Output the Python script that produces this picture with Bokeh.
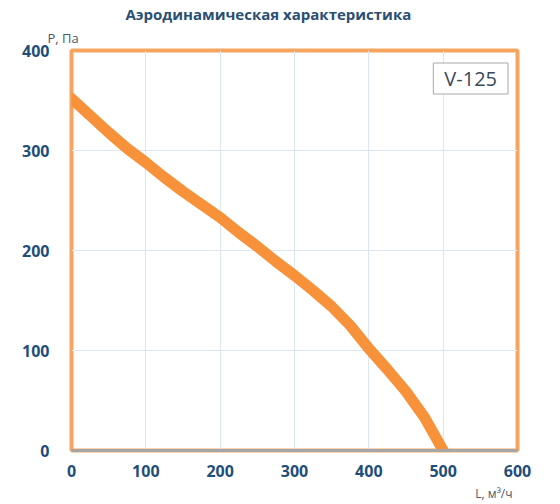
from bokeh.plotting import figure
from bokeh.models import Range1d, Label, FixedTicker, Title
from bokeh.embed import file_html
from bokeh.resources import INLINE

L = [0, 25, 50, 75, 100, 125, 150, 175, 200, 225, 250, 275, 300, 325, 350, 375, 400, 425, 450, 475, 500]
P = [352, 335, 318, 302, 288, 273, 259, 246, 233, 218, 204, 189, 175, 160, 144, 125, 102, 81, 59, 33, 0]
x_ticks = [0, 100, 200, 300, 400, 500, 600]
y_ticks = [0, 100, 200, 300, 400]
title_text = "Аэродинамическая характеристика"
y_label = "P, Па"
x_label = "L, м³/ч"
series_name = "V-125"

FONT = "Open Sans"
BLUE = "#1F4E79"

p = figure(width=560, height=504, output_backend="svg", toolbar_location=None, title=None,
           x_range=Range1d(0, 600), y_range=Range1d(0, 400),
           min_border_left=71, min_border_right=43, min_border_top=50, min_border_bottom=54)

p.outline_line_color = "#F5A55F"
p.outline_line_width = 4
p.background_fill_color = "white"
p.border_fill_color = "white"

p.xgrid.ticker = FixedTicker(ticks=x_ticks)
p.ygrid.ticker = FixedTicker(ticks=y_ticks)
p.grid.grid_line_color = "#DCE6F0"
p.grid.grid_line_width = 1

p.xaxis.ticker = FixedTicker(ticks=x_ticks)
p.yaxis.ticker = FixedTicker(ticks=y_ticks)
for ax in (p.xaxis, p.yaxis):
    ax.major_tick_line_color = None
    ax.minor_tick_line_color = None
    ax.major_label_text_font = FONT
    ax.major_label_text_font_style = "bold"
    ax.major_label_text_font_size = "16px"
    ax.major_label_text_color = BLUE
p.yaxis.axis_line_color = None
p.xaxis.axis_line_color = "#A6A6A6"
p.xaxis.axis_line_width = 3
p.yaxis.major_label_standoff = 16
p.xaxis.major_label_standoff = 8

p.line(L, P, line_color="#F7923A", line_width=11, line_cap="round", line_join="round")

p.add_layout(Title(text=y_label, align="left", offset=-24, standoff=7,
                   text_font=FONT, text_font_style="normal", text_font_size="13px",
                   text_line_height=0.8, text_color="#4A5A6A"), "above")
p.add_layout(Title(text=title_text, align="left", offset=54, standoff=0,
                   text_font=FONT, text_font_style="bold", text_font_size="15px",
                   text_line_height=0.8, text_color="#2A4F73"), "above")
p.add_layout(Title(text=x_label, align="right", offset=5, standoff=6,
                   text_font=FONT, text_font_style="normal", text_font_size="12px",
                   text_color="#4A5A6A"), "below")

p.add_layout(Label(x=537, y=372, text=series_name, text_font=FONT, text_font_size="20px",
                   text_color="#3A4A5A", text_align="center", text_baseline="middle",
                   background_fill_color="white", border_line_color="#A8A8A8",
                   border_line_width=1, padding=(11, 2)))

open("out.html", "w").write(file_html(p, INLINE))
